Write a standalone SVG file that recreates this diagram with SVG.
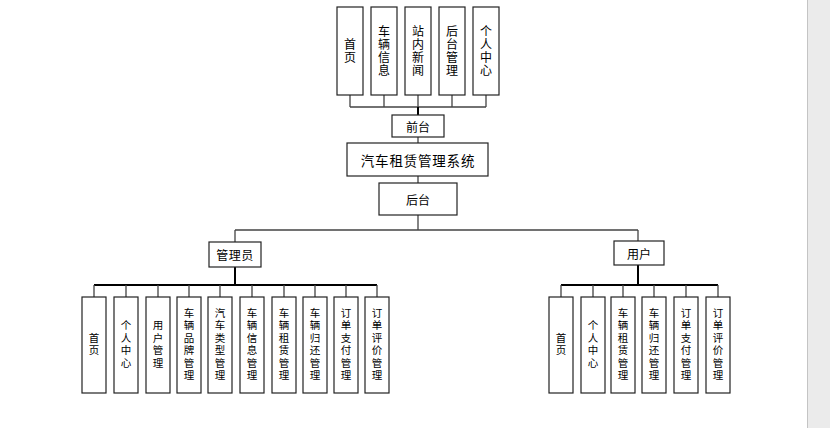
<svg xmlns="http://www.w3.org/2000/svg" width="830" height="428" viewBox="0 0 830 428">
<style>
.box{fill:#fff;stroke:#222;stroke-width:1.2}
.t{font-family:"Noto Sans CJK SC","Liberation Sans",sans-serif;fill:#000;text-anchor:middle;dominant-baseline:central}
.v{writing-mode:vertical-rl;text-orientation:upright;font-family:"Noto Sans CJK SC","Liberation Sans",sans-serif;fill:#000;text-anchor:middle;dominant-baseline:central}
.s{font-size:12px}
.vs{font-size:12px;letter-spacing:1px}
.vb{font-size:10.5px;letter-spacing:2px}
.c{fill:none;stroke:#444;stroke-width:1.3}
.k{fill:none;stroke:#000;stroke-width:2}
</style>
<rect x="0" y="0" width="830" height="428" fill="#fff"/>
<rect x="807" y="0" width="23" height="428" fill="#ebebeb"/>
<line x1="807.5" y1="0" x2="807.5" y2="428" stroke="#c4c4c4" stroke-width="1"/>

<g id="connectors">
  <path class="c" d="M350 95V107M384 95V107M418 95V107M452 95V107M486 95V107M350 107H486"/>
  <path class="k" d="M418 107V115"/>
  <path class="c" d="M418 137V143M418 176V183M418 215V230M235 230H638M235 230V242M638 230V241"/>
  <path class="k" d="M235 267V285M94 285H377M638 265V285M561 285H718"/>
  <path class="c" d="M94 285V297M126 285V297M158 285V297M189 285V297M220 285V297M252 285V297M284 285V297M315 285V297M346 285V297M377 285V297"/>
  <path class="c" d="M561 285V297M593 285V297M623 285V297M654 285V297M686 285V297M718 285V297"/>
</g>

<g id="top-shouye"><rect class="box" x="337" y="7" width="26" height="88"/><text class="v vs" x="350" y="51">首页</text></g>
<g id="top-cheliang"><rect class="box" x="371" y="7" width="26" height="88"/><text class="v vs" x="384" y="51">车辆信息</text></g>
<g id="top-xinwen"><rect class="box" x="405" y="7" width="26" height="88"/><text class="v vs" x="418" y="51">站内新闻</text></g>
<g id="top-houtai"><rect class="box" x="439" y="7" width="26" height="88"/><text class="v vs" x="452" y="51">后台管理</text></g>
<g id="top-geren"><rect class="box" x="473" y="7" width="26" height="88"/><text class="v vs" x="486" y="51">个人中心</text></g>

<g id="qiantai"><rect class="box" x="392" y="115" width="52" height="22"/><text class="t s" x="418" y="126">前台</text></g>
<g id="system"><rect class="box" x="347" y="143" width="141" height="33"/><text class="t" x="418" y="159.5" font-size="13.5" letter-spacing="0.8">汽车租赁管理系统</text></g>
<g id="houtai"><rect class="box" x="379" y="183" width="78" height="32"/><text class="t s" x="418" y="199">后台</text></g>
<g id="admin"><rect class="box" x="209" y="242" width="52" height="25"/><text class="t s" x="235" y="254.5" letter-spacing="0.5">管理员</text></g>
<g id="user"><rect class="box" x="614" y="241" width="50" height="24"/><text class="t s" x="639" y="253">用户</text></g>

<g id="a-shouye"><rect class="box" x="82" y="297" width="24" height="96"/><text class="v vb" x="94" y="345">首页</text></g>
<g id="a-geren"><rect class="box" x="114" y="297" width="24" height="96"/><text class="v vb" x="126" y="345">个人中心</text></g>
<g id="a-yonghu"><rect class="box" x="146" y="297" width="24" height="96"/><text class="v vb" x="158" y="345">用户管理</text></g>
<g id="a-pinpai"><rect class="box" x="177" y="297" width="24" height="96"/><text class="v vb" x="189" y="345">车辆品牌管理</text></g>
<g id="a-leixing"><rect class="box" x="208" y="297" width="24" height="96"/><text class="v vb" x="220" y="345">汽车类型管理</text></g>
<g id="a-xinxi"><rect class="box" x="240" y="297" width="24" height="96"/><text class="v vb" x="252" y="345">车辆信息管理</text></g>
<g id="a-zulin"><rect class="box" x="272" y="297" width="24" height="96"/><text class="v vb" x="284" y="345">车辆租赁管理</text></g>
<g id="a-guihuan"><rect class="box" x="303" y="297" width="24" height="96"/><text class="v vb" x="315" y="345">车辆归还管理</text></g>
<g id="a-zhifu"><rect class="box" x="334" y="297" width="24" height="96"/><text class="v vb" x="346" y="345">订单支付管理</text></g>
<g id="a-pingjia"><rect class="box" x="365" y="297" width="24" height="96"/><text class="v vb" x="377" y="345">订单评价管理</text></g>

<g id="u-shouye"><rect class="box" x="549" y="297" width="24" height="96"/><text class="v vb" x="561" y="345">首页</text></g>
<g id="u-geren"><rect class="box" x="581" y="297" width="24" height="96"/><text class="v vb" x="593" y="345">个人中心</text></g>
<g id="u-zulin"><rect class="box" x="611" y="297" width="24" height="96"/><text class="v vb" x="623" y="345">车辆租赁管理</text></g>
<g id="u-guihuan"><rect class="box" x="642" y="297" width="24" height="96"/><text class="v vb" x="654" y="345">车辆归还管理</text></g>
<g id="u-zhifu"><rect class="box" x="674" y="297" width="24" height="96"/><text class="v vb" x="686" y="345">订单支付管理</text></g>
<g id="u-pingjia"><rect class="box" x="706" y="297" width="24" height="96"/><text class="v vb" x="718" y="345">订单评价管理</text></g>
</svg>
